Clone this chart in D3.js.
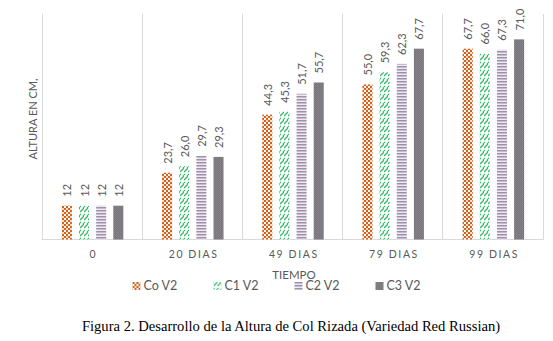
<!DOCTYPE html>
<html><head><meta charset="utf-8">
<script src="https://cdn.jsdelivr.net/npm/d3@7"></script>
<style>body{margin:0;background:#fff}svg{display:block}</style>
</head><body>
<svg id="chart" width="553" height="341"></svg>
<script>
const categories = ["0", "20 DIAS", "49 DIAS", "79 DIAS", "99 DIAS"];
const seriesNames = ["Co V2", "C1 V2", "C2 V2", "C3 V2"];
const coV2 = [12, 23.7, 44.3, 55.0, 67.7];
const c1V2 = [12, 26.0, 45.3, 59.3, 66.0];
const c2V2 = [12, 29.7, 51.7, 62.3, 67.3];
const c3V2 = [12, 29.3, 55.7, 67.7, 71.0];
const yDomain = [0, 80];
const xTitle = "TIEMPO";
const yTitle = "ALTURA EN CM,";
const caption = "Figura 2. Desarrollo de la Altura de Col Rizada (Variedad Red Russian)";

(function () {
const seriesValues = [coV2, c1V2, c2V2, c3V2];
const svg = d3.select("#chart");
const mLeft = 42.5, mRight = 543.5, mTop = 14, mBottom = 239.5;
const font = "Lato, 'Open Sans', sans-serif";
const txt = "#595959";

// patterns
const defs = svg.append("defs");
const pCo = defs.append("pattern").attr("id", "pCo").attr("patternUnits", "userSpaceOnUse").attr("width", 4).attr("height", 4);
pCo.append("rect").attr("width", 4).attr("height", 4).attr("fill", "#fff");
pCo.append("rect").attr("width", 2).attr("height", 2).attr("fill", "#d0621c");
pCo.append("rect").attr("x", 2).attr("y", 2).attr("width", 2).attr("height", 2).attr("fill", "#d0621c");
pCo.append("rect").attr("x", 2).attr("y", 0).attr("width", 2).attr("height", 2).attr("fill", "#e8a070").attr("opacity", 0.35);
const pC1 = defs.append("pattern").attr("id", "pC1").attr("patternUnits", "userSpaceOnUse").attr("width", 4).attr("height", 8);
pC1.append("rect").attr("width", 4).attr("height", 8).attr("fill", "#fff");
pC1.append("path").attr("d", "M0,4 L4,0 M0,7 L1,6 M3,8 L4,7").attr("stroke", "#33bb6a").attr("stroke-width", 1.3);
const pC2 = defs.append("pattern").attr("id", "pC2").attr("patternUnits", "userSpaceOnUse").attr("width", 4).attr("height", 3);
pC2.append("rect").attr("width", 4).attr("height", 3).attr("fill", "#efe9f3");
pC2.append("rect").attr("y", 0).attr("width", 4).attr("height", 1.5).attr("fill", "#9d90a8");
const pC3 = defs.append("pattern").attr("id", "pC3").attr("patternUnits", "userSpaceOnUse").attr("width", 2).attr("height", 2);
pC3.append("rect").attr("width", 2).attr("height", 2).attr("fill", "#767676");
pC3.append("rect").attr("width", 1).attr("height", 1).attr("fill", "#8a8290");
pC3.append("rect").attr("x", 1).attr("y", 1).attr("width", 1).attr("height", 1).attr("fill", "#7c857c");
const fills = ["url(#pCo)", "url(#pC1)", "url(#pC2)", "url(#pC3)"];

const x = d3.scaleBand().domain(categories).range([mLeft, mRight]).padding(0);
const xs = d3.scaleBand().domain(seriesNames).range([0, x.bandwidth()]).paddingInner(0.415).paddingOuter(1.13);
const y = d3.scaleLinear().domain(yDomain).range([mBottom, mTop]);

// vertical separators
const bounds = categories.map(c => x(c)).concat([mRight]);
svg.append("g").selectAll("line").data(bounds).join("line")
  .attr("x1", d => Math.round(d) - 0.5).attr("x2", d => Math.round(d) - 0.5)
  .attr("y1", mTop).attr("y2", mBottom).attr("stroke", "#d9d9d9").attr("stroke-width", 1);
svg.append("line").attr("x1", mLeft - 1).attr("x2", mRight).attr("y1", mBottom).attr("y2", mBottom)
  .attr("stroke", "#d9d9d9").attr("stroke-width", 1);

const fmt = (v, ci) => ci === 0 ? d3.format("d")(v) : d3.format(".1f")(v).replace(".", ",");

const data = [];
seriesValues.forEach((vals, si) => vals.forEach((v, ci) => data.push({ s: seriesNames[si], si, c: categories[ci], ci, v })));

svg.append("g").selectAll("rect").data(data).join("rect")
  .attr("x", d => x(d.c) + xs(d.s)).attr("width", xs.bandwidth())
  .attr("y", d => y(d.v)).attr("height", d => y(0) - y(d.v))
  .attr("fill", d => fills[d.si]);

svg.append("g").selectAll("text").data(data).join("text")
  .attr("transform", d => `translate(${x(d.c) + xs(d.s) + xs.bandwidth() / 2},${y(d.v) - 9}) rotate(-90)`)
  .attr("dominant-baseline", "central")
  .attr("font-family", font).attr("font-size", 11).attr("fill", txt)
  .text(d => fmt(d.v, d.ci));

// x axis labels
svg.append("g").selectAll("text").data(categories).join("text")
  .attr("x", d => x(d) + x.bandwidth() / 2 + 0.8).attr("y", 258)
  .attr("text-anchor", "middle").attr("font-family", font).attr("font-size", 10.5)
  .attr("letter-spacing", 1.6).attr("fill", txt).text(d => d);

// axis titles
svg.append("text").attr("x", 294).attr("y", 279).attr("text-anchor", "middle")
  .attr("font-family", font).attr("font-size", 11.5).attr("fill", txt).text(xTitle);
svg.append("text").attr("transform", "translate(37,119) rotate(-90)").attr("text-anchor", "middle")
  .attr("font-family", font).attr("font-size", 11).attr("fill", txt).text(yTitle);

// legend
const lg = svg.append("g").selectAll("g").data(seriesNames).join("g")
  .attr("transform", (d, i) => `translate(${132.5 + i * 81},282)`);
lg.append("rect").attr("width", 8).attr("height", 8).attr("fill", (d, i) => fills[i]);
lg.append("text").attr("x", 11).attr("y", 7.8).attr("font-family", font).attr("font-size", 12.5)
  .attr("fill", txt).text(d => d);

// caption
svg.append("text").attr("x", 291).attr("y", 331).attr("text-anchor", "middle")
  .attr("font-family", "'Liberation Serif', 'Times New Roman', serif").attr("font-size", 14.6)
  .attr("fill", "#000").text(caption);
})();
</script>
</body></html>
